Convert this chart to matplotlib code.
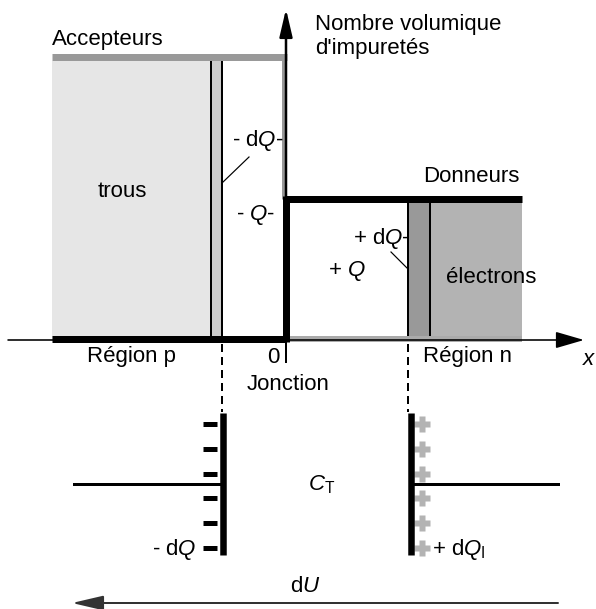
import matplotlib.pyplot as plt
from matplotlib.patches import Rectangle

plt.rcParams['font.family'] = ['Liberation Sans', 'DejaVu Sans']
plt.rcParams['mathtext.fontset'] = 'custom'
plt.rcParams['mathtext.it'] = 'Liberation Sans:italic'
plt.rcParams['mathtext.rm'] = 'Liberation Sans'

# drawing units = pixels of the original sketch, y pointing down
# impurity profile, left to right
x_edges = [52, 211, 222, 286, 408, 430, 522]   # p edge, -dQ strip, junction, +dQ strip, n edge
y_levels = [57, 199, 339]                       # acceptors, donors, zero level
# capacitor below the profile
plate_x = [223, 410.5]
plate_y = [413, 555]
wire_y = 484
wire_x = [74, 558]
charge_y = [424, 449, 474, 498, 523, 548]

PX = 0.72  # pixel -> point

fig = plt.figure(figsize=(5.96, 6.09), dpi=100)
ax = fig.add_axes([0, 0, 1, 1])
ax.set_xlim(0, 596)
ax.set_ylim(609, 0)
ax.axis('off')

xl, xdp, xqp, xj, xqn, xdn, xr = x_edges
ya, yd, y0 = y_levels

# fills
ax.add_patch(Rectangle((xl, ya + 4), xdp - xl, y0 - ya - 4, fc='#e6e6e6', ec='none'))
ax.add_patch(Rectangle((xdp, ya + 4), xqp - xdp, y0 - ya - 4, fc='#cccccc', ec='none'))
ax.add_patch(Rectangle((xdn, yd), xr - xdn, y0 + 3 - yd, fc='#b3b3b3', ec='none'))
ax.add_patch(Rectangle((xqn, yd), xdn - xqn, y0 + 3 - yd, fc='#999999', ec='none'))

# strip borders
for xv in (xdp, xqp):
    ax.plot([xv, xv], [ya + 4, y0 - 3], color='k', lw=2 * PX)
for xv in (xqn, xdn):
    ax.plot([xv, xv], [yd + 3, y0 - 3], color='k', lw=2 * PX)

# acceptor profile (gray)
ax.plot([xl, xj + 1], [ya, ya], color='#999999', lw=7 * PX, solid_capstyle='butt')
ax.plot([xj - 2, xj - 2], [ya, yd], color='#999999', lw=5 * PX, solid_capstyle='butt')
ax.plot([xj, xr], [y0, y0], color='#aaaaaa', lw=6 * PX, solid_capstyle='butt')

# donor profile (black)
ax.plot([xj, xr], [yd, yd], color='k', lw=7 * PX, solid_capstyle='butt')
ax.plot([xj, xj], [yd - 3, y0 + 3], color='k', lw=7 * PX, solid_capstyle='butt')
ax.plot([xl, xj], [y0, y0], color='k', lw=7 * PX, solid_capstyle='butt')

# axes with arrows
ax.annotate('', xy=(584, 340), xytext=(8, 340),
            arrowprops=dict(arrowstyle='-|>,head_length=0.55,head_width=0.16',
                            mutation_scale=32, lw=1.6 * PX, color='k',
                            shrinkA=0, shrinkB=0))
ax.annotate('', xy=(xj, 9), xytext=(xj, y0),
            arrowprops=dict(arrowstyle='-|>,head_length=0.6,head_width=0.14',
                            mutation_scale=28, lw=2.5 * PX, color='k',
                            shrinkA=0, shrinkB=0))
ax.plot([xj, xj], [340, 362], color='k', lw=2 * PX)

# dashed guides
for xv in (xqp, xqn - 0.5):
    ax.plot([xv, xv], [344, 412], color='k', lw=2 * PX, dashes=(4, 2.5))

# leader lines
ax.plot([249, 222], [157, 183], color='k', lw=1.2 * PX)
ax.plot([391, 408], [252, 269], color='k', lw=1.2 * PX)

# capacitor
ax.plot([421.5] * len(charge_y), charge_y, ls='none', marker='P', ms=11,
        color='#b3b3b3', mec='none', zorder=1)
for xv in plate_x:
    ax.plot([xv, xv], plate_y, color='k', lw=6.5 * PX, solid_capstyle='butt', zorder=3)
ax.plot([wire_x[0], plate_x[0]], [wire_y, wire_y], color='k', lw=3 * PX)
ax.plot([plate_x[1], wire_x[1]], [wire_y, wire_y], color='k', lw=3 * PX)
for yv in charge_y:
    ax.plot([203, 217], [yv, yv], color='k', lw=5 * PX, solid_capstyle='butt')

# dU arrow
ax.annotate('', xy=(72, 603), xytext=(558, 603),
            arrowprops=dict(arrowstyle='-|>,head_length=0.6,head_width=0.14',
                            mutation_scale=32, lw=2 * PX, color='#333333',
                            shrinkA=0, shrinkB=0))

fs = 16
txt = dict(fontsize=fs, color='k', va='baseline')
ax.text(52, 45, 'Accepteurs', **txt)
ax.text(315, 30, 'Nombre volumique', **txt)
ax.text(315, 54, "d'impuretés", **txt)
ax.text(423, 182, 'Donneurs', **txt)
ax.text(122, 197, 'trous', ha='center', **txt)
ax.text(232, 146, '- d$Q$-', **txt)
ax.text(236, 220, '- $Q$-', **txt)
ax.text(353, 244, '+ d$Q$-', **txt)
ax.text(328, 276, '+ $Q$', **txt)
ax.text(446, 283, 'électrons', **txt)
ax.text(87, 362, 'Région p', **txt)
ax.text(273, 363, '0', ha='center', **txt)
ax.text(247, 390, 'Jonction', **txt)
ax.text(423, 362, 'Région n', **txt)
ax.text(582, 365, '$x$', **txt)
ax.text(152, 555, '- d$Q$', **txt)
ax.text(308, 490, '$C_\\mathrm{T}$', **txt)
ax.text(432, 555, '+ d$Q_\\mathrm{I}$', **txt)
ax.text(290, 592, 'd$U$', **txt)

fig.savefig('out.png', dpi=100)
